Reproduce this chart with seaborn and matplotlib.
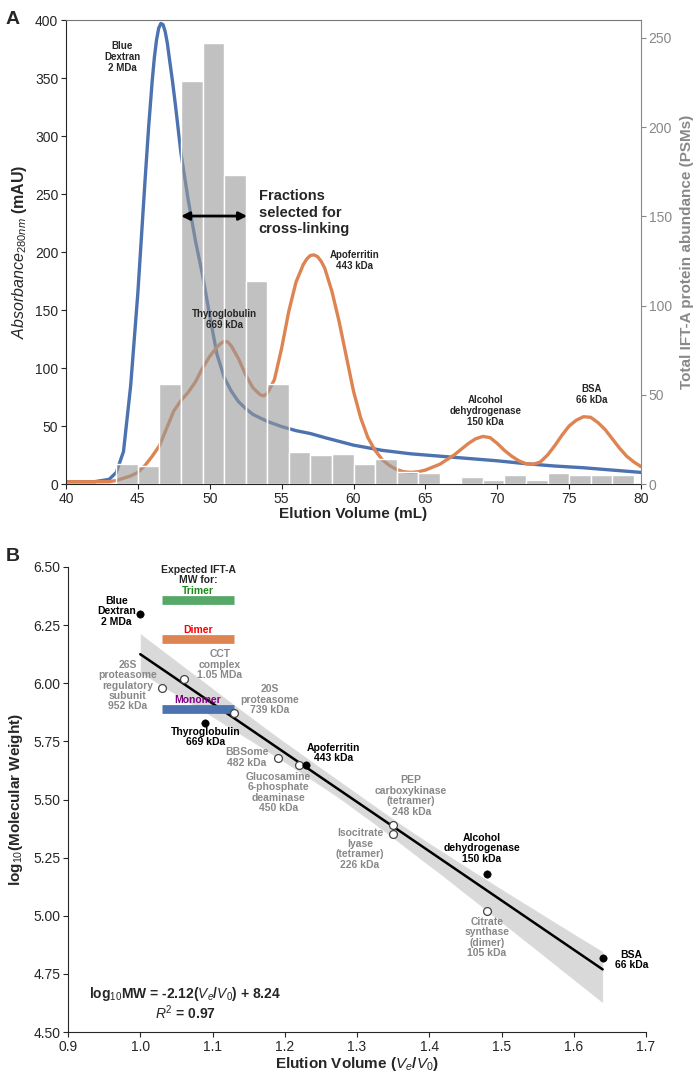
import matplotlib
matplotlib.use("Agg")
import matplotlib.pyplot as plt
import seaborn as sns

# ---------------- Panel A data ----------------
# Blue Dextran trace (mL, mAU)
blue_x = [40, 42, 43, 43.5, 44, 44.5, 45, 45.5, 45.75, 46, 46.15, 46.3, 46.45, 46.6, 46.75,
          46.9, 47.05, 47.2, 47.4, 47.6, 48, 48.5, 49, 49.5, 50, 50.5, 51, 51.5, 52, 52.5,
          53, 54, 55, 56, 57, 58, 60, 62, 64, 66, 68, 70, 72, 74, 76, 78, 80]
blue_y = [2, 2, 4, 10, 28, 85, 165, 262, 308, 348, 368, 383, 393, 397, 396,
          390, 380, 366, 348, 328, 285, 245, 210, 180, 145, 112, 92, 80, 71, 65,
          60, 54, 49.5, 46, 43.5, 40, 33.5, 29, 26, 24, 22, 20, 17.5, 15.5, 14, 12, 10]

# protein standards trace (mL, mAU)
orange_x = [40, 43, 43.5, 44, 44.5, 45, 45.5, 46, 46.5, 47, 47.5, 48, 48.5, 49, 49.5, 50,
            50.5, 50.75, 51, 51.25, 51.5, 52, 52.5, 53, 53.5, 53.75, 54, 54.5, 55, 55.5, 56,
            56.5, 56.75, 57, 57.25, 57.5, 57.75, 58, 58.5, 59, 59.5, 60, 60.5, 61, 61.5, 62,
            62.5, 63, 63.5, 64, 64.5, 65, 66, 67, 67.5, 68, 68.5, 69, 69.5, 70, 70.5, 71,
            71.5, 72, 72.5, 73, 73.5, 74, 74.5, 75, 75.5, 76, 76.5, 77, 77.5, 78, 78.5, 79,
            79.5, 80]
orange_y = [2, 2, 3, 5, 7, 10, 16, 24, 33, 48, 63, 72, 79, 88, 100, 110,
            118, 121, 123, 122.5, 119, 108, 94, 83, 77, 76, 78, 90, 117, 149, 174,
            189, 194, 197, 197.5, 196, 192, 186, 166, 140, 110, 80, 57, 40, 29, 21,
            16, 12.5, 10.5, 10, 10.5, 12, 17, 25, 30, 35, 39, 41, 40, 35, 29, 24,
            20, 17.5, 17, 19, 25, 33, 42, 50, 55, 58, 57.5, 53, 47, 39, 31, 24,
            19, 15]

# fractions (1.5 mL each) and IFT-A PSMs
fraction_edges = [43.5, 45, 46.5, 48, 49.5, 51, 52.5, 54, 55.5, 57, 58.5, 60, 61.5, 63, 64.5,
                  66, 67.5, 69, 70.5, 72, 73.5, 75, 76.5, 78, 79.5]
fraction_mid = [44.25, 45.75, 47.25, 48.75, 50.25, 51.75, 53.25, 54.75, 56.25, 57.75, 59.25,
                60.75, 62.25, 63.75, 65.25, 66.75, 68.25, 69.75, 71.25, 72.75, 74.25, 75.75,
                77.25, 78.75]
psm_counts = [11, 10, 56, 226, 247, 173, 114, 56, 18, 16, 17, 11, 14, 7, 6, 0, 4, 2, 5, 2,
              6, 5, 5, 5]

peak_labels = ["Blue\nDextran\n2 MDa", "Thyroglobulin\n669 kDa", "Apoferritin\n443 kDa",
               "Alcohol\ndehydrogenase\n150 kDa", "BSA\n66 kDa"]
peak_label_x = [43.9, 51.0, 60.1, 69.2, 76.6]
peak_label_y = [368, 142, 193, 63, 77]

# ---------------- Panel B data ----------------
std_names = ["Blue\nDextran\n2 MDa", "Thyroglobulin\n669 kDa", "Apoferritin\n443 kDa",
             "Alcohol\ndehydrogenase\n150 kDa", "BSA\n66 kDa"]
std_ve_v0 = [1.00, 1.09, 1.23, 1.48, 1.64]
std_logmw = [6.30, 5.83, 5.65, 5.18, 4.82]
std_lab_x = [0.967, 1.09, 1.267, 1.473, 1.68]
std_lab_y = [6.31, 5.77, 5.70, 5.29, 4.81]

ref_names = ["26S\nproteasome\nregulatory\nsubunit\n952 kDa", "CCT\ncomplex\n1.05 MDa",
             "20S\nproteasome\n739 kDa", "BBSome\n482 kDa",
             "Glucosamine\n6-phosphate\ndeaminase\n450 kDa",
             "PEP\ncarboxykinase\n(tetramer)\n248 kDa",
             "Isocitrate\nlyase\n(tetramer)\n226 kDa",
             "Citrate\nsynthase\n(dimer)\n105 kDa"]
ref_ve_v0 = [1.03, 1.06, 1.13, 1.19, 1.22, 1.35, 1.35, 1.48]
ref_logmw = [5.98, 6.02, 5.87, 5.68, 5.65, 5.39, 5.35, 5.02]
ref_lab_x = [0.983, 1.11, 1.179, 1.148, 1.191, 1.375, 1.304, 1.48]
ref_lab_y = [5.99, 6.08, 5.93, 5.68, 5.53, 5.515, 5.287, 4.906]

ift_states = ["Monomer", "Dimer", "Trimer"]
ift_logmw = [5.888, 6.19, 6.358]
ift_ve_range = [1.03, 1.13]
ift_bar_colors = ["#4c72b0", "#dd8452", "#55a868"]
ift_text_colors = ["#800080", "#ff0000", "#1a8a1a"]

# ---------------- style ----------------
sns.set_style("ticks")
plt.rcParams["font.family"] = ["Liberation Sans", "DejaVu Sans"]
plt.rcParams["mathtext.fontset"] = "custom"
plt.rcParams["mathtext.rm"] = "Liberation Sans"
plt.rcParams["mathtext.it"] = "Liberation Sans:italic"
plt.rcParams["mathtext.bf"] = "Liberation Sans:bold"
plt.rcParams["xtick.labelsize"] = 10
plt.rcParams["ytick.labelsize"] = 10
plt.rcParams["xtick.major.pad"] = 2
plt.rcParams["ytick.major.pad"] = 2

BLUE = "#4c72b0"
ORANGE = "#dd8452"
GREY = "#888888"

fig = plt.figure(figsize=(7, 10.76), dpi=100)

# ================= Panel A =================
ax1 = fig.add_axes([66 / 700, 1 - 484 / 1076, 575 / 700, 464 / 1076])
ax2 = ax1.twinx()

sns.lineplot(x=blue_x, y=blue_y, ax=ax1, color=BLUE, linewidth=2.4)
sns.lineplot(x=orange_x, y=orange_y, ax=ax1, color=ORANGE, linewidth=2.4)
sns.histplot(x=fraction_mid, weights=psm_counts, bins=fraction_edges, ax=ax2,
             color="#999999", alpha=0.6, edgecolor="white", linewidth=1)

ax1.set_xlim(40, 80)
ax1.set_ylim(0, 400)
ax2.set_ylim(0, 260)
ax1.set_xticks(range(40, 81, 5))
ax1.set_yticks(range(0, 401, 50))
ax2.set_yticks(range(0, 251, 50))

ax1.set_xlabel("Elution Volume (mL)", fontsize=11, fontweight="bold", labelpad=1)
ax1.set_ylabel(r"$\mathit{Absorbance}_{\mathit{280nm}}$ (mAU)", fontsize=11.5,
               fontweight="bold", labelpad=4)
ax2.set_ylabel("Total IFT-A protein abundance (PSMs)", fontsize=11, fontweight="bold",
               color=GREY, labelpad=6)

ax1.spines["right"].set_visible(False)
ax1.spines["top"].set_visible(False)
ax2.spines["left"].set_visible(False)
ax2.spines["bottom"].set_visible(False)
ax2.spines["right"].set_color(GREY)
ax2.spines["top"].set_color("#777777")
ax2.tick_params(axis="y", colors=GREY)

for lab, lx, ly in zip(peak_labels, peak_label_x, peak_label_y):
    ax2.text(lx, ly, lab, transform=ax1.transData, ha="center", va="center",
             fontsize=7, fontweight="bold", linespacing=1.15)

ax2.annotate("", xy=(48.0, 231), xytext=(52.6, 231), xycoords=ax1.transData,
             textcoords=ax1.transData,
             arrowprops=dict(arrowstyle="<|-|>", color="black", lw=2, mutation_scale=12,
                             shrinkA=0, shrinkB=0))
ax2.text(53.4, 234, "Fractions\nselected for\ncross-linking", transform=ax1.transData,
         ha="left", va="center", fontsize=10.5, fontweight="bold", linespacing=1.2)

fig.text(0.008, 0.99, "A", fontsize=14, fontweight="bold", va="top")

# ================= Panel B =================
axB = fig.add_axes([68 / 700, 1 - 1032 / 1076, 578 / 700, 465 / 1076])

all_x = std_ve_v0 + ref_ve_v0
all_y = std_logmw + ref_logmw
sns.regplot(x=all_x, y=all_y, ax=axB, scatter=False, color="black", truncate=True,
            seed=3, n_boot=2000, line_kws=dict(linewidth=1.8))

axB.hlines(ift_logmw, ift_ve_range[0], ift_ve_range[1], colors=ift_bar_colors,
           linewidth=6.3, capstyle="butt", zorder=3)
for name, y, c in zip(ift_states, ift_logmw, ift_text_colors):
    axB.text(sum(ift_ve_range) / 2, y + 0.04, name, ha="center", va="center",
             fontsize=7.5, fontweight="bold", color=c, zorder=5)
axB.text(sum(ift_ve_range) / 2, 6.465, "Expected IFT-A\nMW for:", ha="center",
         va="center", fontsize=7.5, fontweight="bold", linespacing=1.05)

sns.scatterplot(x=ref_ve_v0, y=ref_logmw, ax=axB, color="white", edgecolor="#444444",
                s=32, linewidth=0.9, zorder=6)
sns.scatterplot(x=std_ve_v0, y=std_logmw, ax=axB, color="black", edgecolor="black",
                s=28, zorder=6)

for lab, lx, ly in zip(ref_names, ref_lab_x, ref_lab_y):
    axB.text(lx, ly, lab, ha="center", va="center", fontsize=7.5, fontweight="bold",
             color=GREY, linespacing=1.05, zorder=5)
for lab, lx, ly in zip(std_names, std_lab_x, std_lab_y):
    axB.text(lx, ly, lab, ha="center", va="center", fontsize=7.5, fontweight="bold",
             color="black", linespacing=1.05, zorder=5)

axB.text(1.0625, 4.665, r"log$_{10}$MW = -2.12($V_e$/$V_0$) + 8.24", ha="center",
         va="center", fontsize=10, fontweight="bold")
axB.text(1.0625, 4.585, r"$R^2$ = 0.97", ha="center", va="center", fontsize=10,
         fontweight="bold")

axB.set_xlim(0.9, 1.7)
axB.set_ylim(4.5, 6.5)
axB.set_xticks([0.9, 1.0, 1.1, 1.2, 1.3, 1.4, 1.5, 1.6, 1.7])
axB.set_xticklabels(["0.9", "1.0", "1.1", "1.2", "1.3", "1.4", "1.5", "1.6", "1.7"])
axB.set_yticks([4.5, 4.75, 5.0, 5.25, 5.5, 5.75, 6.0, 6.25, 6.5])
axB.set_yticklabels(["4.50", "4.75", "5.00", "5.25", "5.50", "5.75", "6.00", "6.25", "6.50"])
axB.set_xlabel(r"Elution Volume ($V_e$/$V_0$)", fontsize=11, fontweight="bold", labelpad=1)
axB.set_ylabel(r"log$_{10}$(Molecular Weight)", fontsize=11, fontweight="bold", labelpad=6)
sns.despine(ax=axB)

fig.text(0.008, 1 - 548 / 1076, "B", fontsize=14, fontweight="bold", va="top")

fig.savefig("out.png", dpi=100)
